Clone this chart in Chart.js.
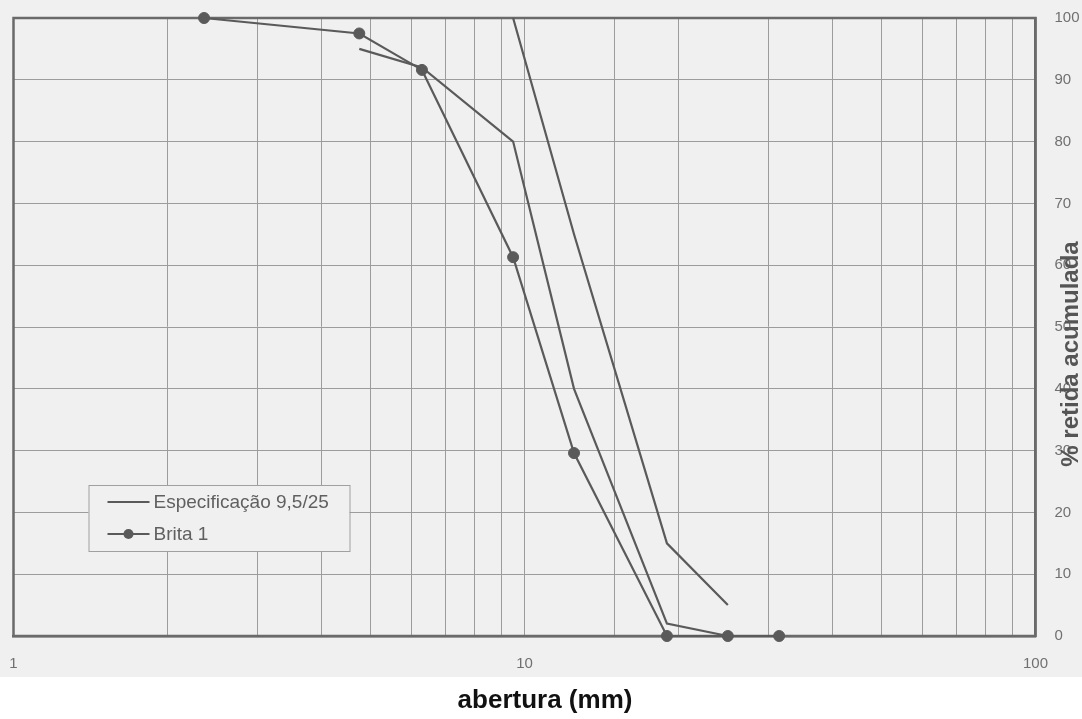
<!DOCTYPE html>
<html>
<head>
<meta charset="utf-8">
<title>Curva granulométrica - Brita 1</title>
<script src="https://cdn.jsdelivr.net/npm/chart.js@4.4.1/dist/chart.umd.min.js"></script>
<style>
  html, body { margin: 0; padding: 0; background: #fff; }
  #wrap { width: 1082px; height: 719px; }
</style>
</head>
<body>
<div id="wrap"><canvas id="grafico" width="1082" height="719"></canvas></div>
<script>
// abertura das peneiras (mm) e % retida acumulada
const peneirasBrita = [2.36, 4.75, 6.3, 9.5, 12.5, 19, 25, 31.5];
const retidaBrita = [100, 97.5, 91.6, 61.3, 29.6, 0, 0, 0];

// limites da especificação 9,5/25
const peneirasLimInf = [4.75, 6.3, 9.5, 12.5, 19, 25];
const retidaLimInf = [95, 92, 80, 40, 2, 0];
const peneirasLimSup = [9.5, 12.5, 19, 25];
const retidaLimSup = [100, 65, 15, 5];

const xLabels = [1, 10, 100];
const yMin = 0, yMax = 100, yStep = 10;

const nomeEspec = 'Especificação 9,5/25';
const nomeBrita = 'Brita 1';
const tituloX = 'abertura (mm)';
const tituloY = '% retida acumulada';

const cor = '#5a5a5a';
const fonte = '"Liberation Sans", Arial, sans-serif';

const pares = (xs, ys) => xs.map((x, i) => ({x: x, y: ys[i]}));

// fundo de papel + moldura
const papel = {
  id: 'papel',
  beforeDraw(chart) {
    const c = chart.ctx;
    c.save();
    c.fillStyle = '#ffffff';
    c.fillRect(0, 0, chart.width, chart.height);
    c.fillStyle = '#f0f0f0';
    c.fillRect(0, 0, chart.width, 677);
    c.restore();
  },
  beforeDatasetsDraw(chart) {
    const a = chart.chartArea, c = chart.ctx;
    c.save();
    c.strokeStyle = '#6a6a6a';
    c.lineWidth = 2.5;
    c.strokeRect(a.left, a.top, a.right - a.left, a.bottom - a.top);
    c.restore();
  }
};

// legenda em caixa e títulos dos eixos
const extras = {
  id: 'extras',
  afterDraw(chart) {
    const c = chart.ctx;
    const a = chart.chartArea;
    c.save();
    // caixa
    const bx = a.left + 75, by = a.bottom - 151, bw = 261, bh = 66;
    c.fillStyle = '#f0f0f0';
    c.fillRect(bx, by, bw, bh);
    c.strokeStyle = '#a0a0a0';
    c.lineWidth = 1;
    c.strokeRect(bx + 0.5, by + 0.5, bw, bh);

    const linhas = [
      {texto: nomeEspec, ponto: false, y: by + 17},
      {texto: nomeBrita, ponto: true, y: by + 49}
    ];
    c.font = '19px ' + fonte;
    c.textBaseline = 'middle';
    c.textAlign = 'left';
    linhas.forEach(l => {
      c.strokeStyle = cor;
      c.lineWidth = 2.2;
      c.beginPath();
      c.moveTo(bx + 19, l.y);
      c.lineTo(bx + 61, l.y);
      c.stroke();
      if (l.ponto) {
        c.fillStyle = cor;
        c.beginPath();
        c.arc(bx + 40, l.y, 5, 0, Math.PI * 2);
        c.fill();
      }
      c.fillStyle = '#606060';
      c.fillText(l.texto, bx + 65, l.y + 1);
    });

    // título x
    c.font = 'bold 26px ' + fonte;
    c.fillStyle = '#111111';
    c.textAlign = 'center';
    c.textBaseline = 'middle';
    c.fillText(tituloX, 545, 701);

    // título y (de baixo para cima)
    c.translate(1071, 354);
    c.rotate(-Math.PI / 2);
    c.font = 'bold 24px ' + fonte;
    c.fillStyle = '#555555';
    c.fillText(tituloY, 0, 0);
    c.restore();
  }
};

const ctx = document.getElementById('grafico').getContext('2d');
new Chart(ctx, {
  type: 'line',
  data: {
    datasets: [
      {
        label: nomeEspec,
        data: pares(peneirasLimInf, retidaLimInf),
        borderColor: cor, borderWidth: 2.2, pointRadius: 0, clip: false
      },
      {
        label: nomeEspec,
        data: pares(peneirasLimSup, retidaLimSup),
        borderColor: cor, borderWidth: 2.2, pointRadius: 0, clip: false
      },
      {
        label: nomeBrita,
        data: pares(peneirasBrita, retidaBrita),
        borderColor: cor, borderWidth: 2.2,
        pointRadius: 5.5, pointBackgroundColor: cor, pointBorderColor: cor, pointBorderWidth: 1,
        clip: false
      }
    ]
  },
  options: {
    responsive: false,
    animation: false,
    devicePixelRatio: 1,
    layout: { padding: { left: 13.5, top: 18, right: 0, bottom: 0 } },
    plugins: { legend: { display: false }, tooltip: { enabled: false } },
    scales: {
      x: {
        type: 'logarithmic',
        position: 'bottom',
        min: 1, max: 100,
        // marcas invisíveis fazem o afastamento dos rótulos
        grid: { color: '#9c9c9c', lineWidth: 1, drawTicks: true, tickLength: 19, tickColor: 'rgba(0,0,0,0)' },
        border: { display: true, color: '#6a6a6a', width: 2.5 },
        ticks: {
          autoSkip: false, maxRotation: 0, padding: 0,
          color: '#707070', font: { family: fonte, size: 15 },
          callback: v => xLabels.includes(v) ? String(v) : ''
        },
        afterFit: s => { s.height = 83; }
      },
      y: {
        type: 'linear',
        position: 'right',
        min: yMin, max: yMax,
        grid: { color: '#9c9c9c', lineWidth: 1, drawTicks: true, tickLength: 19, tickColor: 'rgba(0,0,0,0)' },
        border: { display: true, color: '#6a6a6a', width: 2.5 },
        ticks: {
          stepSize: yStep, padding: 0,
          color: '#707070', font: { family: fonte, size: 15 }
        },
        afterFit: s => { s.width = 46.5; }
      }
    }
  },
  plugins: [papel, extras]
});
</script>
</body>
</html>
